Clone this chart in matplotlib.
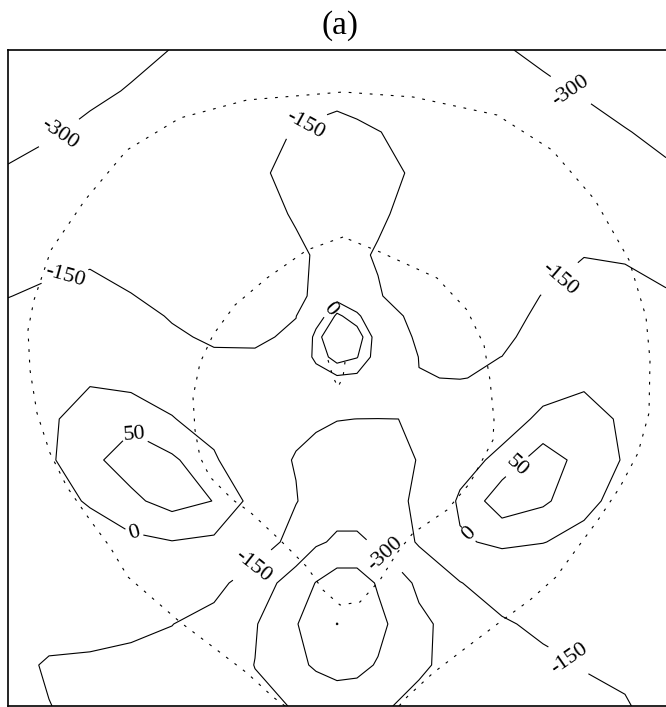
import numpy as np
import matplotlib
matplotlib.use('Agg')
import matplotlib.pyplot as plt

plt.rcParams['font.family'] = ['Liberation Serif', 'DejaVu Serif']
plt.rcParams['contour.negative_linestyle'] = 'solid'

# grid nodes of the field (x across the panel, y down the panel)
x_nodes = [8, 49, 90, 131, 172, 214, 255, 296, 316, 337, 357, 378, 419, 460, 502, 543, 584, 625, 666]
y_nodes = [50, 91, 132, 173, 214, 255, 296, 316, 337, 357, 378, 419, 460, 501, 542, 583, 624, 665, 706]

# field values, one row per y node
z_rows = [
    [-400, -374, -349, -323, -298, -277, -256, -236, -225, -215, -224, -234, -254, -273, -293, -317, -343, -369, -395],
    [-365, -341, -318, -294, -270, -246, -222, -198, -186, -174, -185, -196, -218, -240, -262, -284, -307, -332, -357],
    [-336, -309, -281, -254, -227, -199, -172, -146, -133, -125, -134, -148, -173, -197, -222, -247, -271, -296, -320],
    [-290, -268, -247, -225, -203, -181, -159, -135, -120, -110, -121, -135, -158, -180, -202, -224, -245, -267, -288],
    [-243, -225, -213, -210, -207, -192, -170, -145, -131, -120, -130, -143, -167, -185, -197, -200, -198, -210, -233],
    [-197, -175, -166, -187, -190, -198, -180, -159, -146, -135, -143, -154, -176, -192, -190, -172, -153, -160, -186],
    [-152, -134, -120, -147, -175, -190, -180, -170, -134, -25, -80, -146, -180, -195, -175, -148, -103, -115, -141],
    [-130, -115, -95, -116, -158, -185, -180, -152, -45, 62, 18, -85, -190, -185, -185, -130, -83, -90, -120],
    [-119, -88, -63, -85, -135, -165, -165, -134, 28, 110, 83, -33, -174, -190, -180, -93, -60, -88, -114],
    [-104, -65, -37, -56, -95, -136, -138, -53, 14, 75, 53, -30, -152, -175, -149, -68, -37, -58, -100],
    [-88, -40, -8, -22, -50, -100, -110, -65, -30, -10, -15, -50, -148, -152, -141, -44, -15, -45, -85],
    [-50, -10, 30, 40, 5, -45, -90, -132, -128, -147, -150.5, -151, -149, -84, -45, 20, 30, -12, -55],
    [-45, -8, 40, 70, 58, 15, -110, -155, -195, -204, -205, -185, -147, -40, 26, 70, 36, -5, -45],
    [-65, -30, 8, 40, 68, 49, -20, -145, -195, -245, -245, -220, -125, 15, 75, 58, 18, -25, -60],
    [-75, -55, -40, -12, -2, -10, -64, -204, -280, -320, -320, -285, -135, -10, 15, 2, -20, -45, -70],
    [-90, -80, -78, -64, -76, -107, -224, -366, -455, -525, -525, -435, -272, -155, -77, -63, -60, -65, -80],
    [-105, -115, -112, -125, -148, -197, -290, -440, -540, -602, -560, -488, -330, -244, -167, -120, -100, -95, -95],
    [-120, -160, -168, -180, -190, -237, -302, -415, -470, -490, -485, -440, -320, -255, -218, -182, -146, -135, -110],
    [-130, -148, -175, -190, -205, -235, -280, -305, -340, -385, -375, -320, -265, -235, -210, -190, -172, -156, -118],
]

plain_levels = [-600, -450]
label_levels = [-300, -150, 0, 50]
label_spots = [(59, 133), (571, 90), (387, 553), (305, 125), (64, 273), (552, 270),
               (252, 565), (569, 660), (328, 308), (133, 538), (468, 535), (135, 433), (514, 463)]

# dotted outlines
outer_x = [285, 273, 247, 213, 180, 128, 110, 90, 67, 50, 37, 30, 28, 34, 51, 85, 127, 180, 247, 343,
           413, 497, 552, 595, 629, 646, 650, 649, 638, 620, 598, 578, 556, 530, 500, 463, 433, 407, 399]
outer_y = [706, 697, 673, 647, 622, 577, 547, 520, 487, 453, 413, 370, 330, 300, 250, 200, 150, 118, 100, 92,
           97, 115, 150, 200, 260, 317, 360, 413, 453, 487, 520, 547, 577, 600, 622, 650, 673, 697, 706]
inner_x = [343, 307, 267, 235, 213, 200, 193, 195, 200, 210, 233, 250, 280, 307, 323, 340, 360, 380, 397,
           413, 447, 470, 493, 494, 490, 484, 467, 437, 380, 343]
inner_y = [237, 250, 278, 305, 335, 363, 397, 430, 457, 477, 500, 512, 540, 567, 590, 605, 602, 580, 553,
           533, 510, 483, 440, 420, 380, 345, 310, 278, 252, 237]
tip_x = [328, 333, 338, 343, 345]
tip_y = [360, 377, 387, 377, 362]

fig = plt.figure(figsize=(6.66, 7.07), dpi=100)
ax = fig.add_axes([8 / 666, 1 / 707, 658 / 666, 656 / 707])

z = np.array(z_rows)
ax.contour(x_nodes, y_nodes, z, levels=plain_levels, colors='k', linewidths=0.8)
cs = ax.contour(x_nodes, y_nodes, z, levels=label_levels, colors='k', linewidths=0.8)
ax.clabel(cs, manual=label_spots, inline=True, fmt='%d', fontsize=16, inline_spacing=4)

for xs, ys in [(outer_x, outer_y), (inner_x, inner_y), (tip_x, tip_y)]:
    ax.plot(xs, ys, color='k', lw=0.8, dashes=(2.5, 7))

ax.set_xlim(8, 666)
ax.set_ylim(706, 50)
ax.set_xticks([])
ax.set_yticks([])
ax.spines['right'].set_visible(False)
for s in ['left', 'top', 'bottom']:
    ax.spines[s].set_linewidth(1.2)

fig.text(340 / 666, 1 - 26 / 707, '(a)', ha='center', va='center', fontsize=24)

fig.savefig('out.png', dpi=100)
